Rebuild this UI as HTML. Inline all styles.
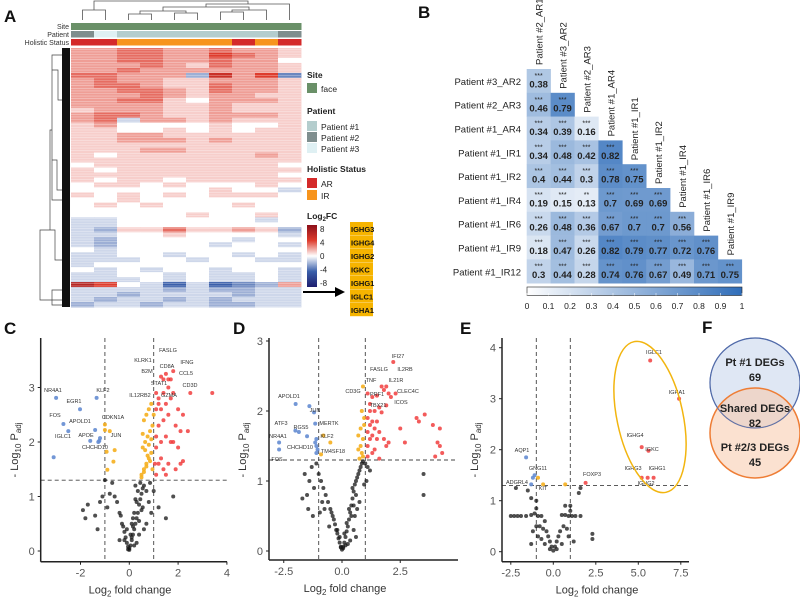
<!DOCTYPE html>
<html><head><meta charset="utf-8"><style>
html,body{margin:0;padding:0;background:#fff}
svg{display:block;font-family:"Liberation Sans",Arial,sans-serif}
</style></head><body>
<svg id="fig" width="800" height="603" viewBox="0 0 800 603"></svg>
<script>
// ---------- DATA ----------
const heatRows = [
[2,2,3,3,2,2,3,2,2,1],[2,2,3,3,2,2,4,3,2,1],[2,2,3,3,2,2,3,2,2,0],[2,2,2,3,2,1,3,2,2,1],[2,2,3,2,2,2,2,2,2,1],
[3,3,2,2,2,-2,5,2,4,-3],[2,3,2,2,1,1,2,2,2,1],[2,3,3,2,1,1,3,2,2,1],[2,2,3,3,2,1,3,2,2,1],[2,2,2,3,2,1,2,2,1,1],
[2,2,3,3,1,0,2,2,2,1],[2,2,2,2,1,1,2,1,1,1],[1,2,2,2,1,1,2,1,1,1],[2,3,3,2,1,1,2,2,2,1],[2,3,-1,2,2,1,2,1,1,1],
[1,2,0,0,0,0,1,0,0,1],[1,1,0,0,1,0,1,0,1,1],[1,1,2,2,1,1,1,1,1,1],[1,1,2,2,2,1,2,1,1,1],[1,1,1,1,1,1,1,1,1,1],
[1,1,1,2,2,1,1,1,1,1],[1,0,1,1,1,1,1,1,2,1],[1,1,1,1,1,1,1,1,1,1],[0,1,1,1,1,1,1,1,1,0],[1,0,1,1,1,1,1,1,1,1],
[1,1,1,1,1,1,1,1,1,0],[1,0,1,1,0,1,1,1,1,1],[0,1,1,0,1,0,0,0,1,0],[0,0,0,0,0,0,1,0,0,-1],[1,0,1,0,1,0,1,1,1,0],
[0,0,1,0,0,0,0,0,0,0],[0,1,0,1,0,0,0,1,0,0],[0,0,0,0,0,0,0,0,0,0],[0,0,0,0,0,1,0,0,1,0],[-1,-1,0,0,0,0,0,0,-1,0],
[-1,-1,0,0,0,0,0,0,0,0],[-1,-2,1,1,3,1,1,2,1,-2],[-1,-1,0,0,1,0,0,0,0,-1],[-1,-2,0,0,0,0,0,-1,0,0],[-1,-2,0,0,0,0,-1,0,0,-1],
[0,-1,0,0,0,0,0,0,0,0],[-1,-1,0,0,-1,0,0,-1,0,-1],[-1,-1,-1,0,0,-1,0,0,-1,-1],[-1,0,0,0,0,0,0,0,0,0],[0,-1,0,-1,0,0,-1,0,0,-1],
[-1,-1,0,0,-1,0,-1,-1,0,-1],[-1,-1,-1,0,-1,0,-1,-1,0,-1],[6,4,0,-1,-4,-1,-4,-3,-2,2],[-1,-1,-1,-1,-2,-1,-2,-2,-1,-1],[-1,-1,-2,-1,-1,-1,-1,-2,-1,-1],
[-1,-2,-1,-1,-2,-1,-2,-1,-1,-1],[-2,-1,-1,-2,-1,-1,-2,-2,-1,-1]];
const patientCols = [2,3,1,1,1,1,1,1,1,2];
const statusCols = ['AR','AR','IR','IR','IR','IR','IR','AR','IR','AR'];
const geneLabels = ['IGHG3','IGHG4','IGHG2','IGKC','IGHG1','IGLC1','IGHA1'];

const corrNames = ['Patient #2_AR1','Patient #3_AR2','Patient #2_AR3','Patient #1_AR4','Patient #1_IR1','Patient #1_IR2','Patient #1_IR4','Patient #1_IR6','Patient #1_IR9','Patient #1_IR12'];
const corrVals = [
[0.38],[0.46,0.79],[0.34,0.39,0.16],[0.34,0.48,0.42,0.82],[0.4,0.44,0.3,0.78,0.75],
[0.19,0.15,0.13,0.7,0.69,0.69],[0.26,0.48,0.36,0.67,0.7,0.7,0.56],
[0.18,0.47,0.26,0.82,0.79,0.77,0.72,0.76],[0.3,0.44,0.28,0.74,0.76,0.67,0.49,0.71,0.75]];
const corrStars = [
['***'],['***','***'],['***','***','***'],['***','***','***','***'],['***','***','***','***','***'],
['***','***','**','***','***','***'],['***','***','***','***','***','***','***'],
['***','***','***','***','***','***','***','***'],['***','***','***','***','***','***','***','***','***']];
const corrTicks = [0,0.1,0.2,0.3,0.4,0.5,0.6,0.7,0.8,0.9,1];

const cX = [-3.0,-2.02,-1.34,-2.7,-1.4,-1.0,-1.0,-2.5,-1.6,-1.23,-1.2,-1.27,-3.1,
 -0.8,-0.6,-0.93,-0.65,-0.9,0.5,0.6,0.7,0.8,0.9,0.55,0.65,0.75,0.85,0.95,0.6,0.7,0.8,0.9,0.5,0.6,0.7,0.8,0.9,0.95,0.85,0.75,0.65,0.55,
 1.1,1.2,1.1,1.3,1.5,1.2,1.4,1.6,1.3,1.5,1.7,1.2,1.4,1.1,1.6,1.8,2.0,2.2,2.5,3.4,1.9,2.1,1.8,1.7,2.0,1.6,2.1,2.2,1.9,1.5,1.4,1.3,1.1,1.0,1.3,1.8,1.6,1.7,1.4,1.5,2.4,1.2,1.05,1.1,
 0,0.05,-0.05,0.1,-0.1,0.15,-0.15,0.2,-0.2,0.25,-0.25,0.3,-0.3,0.35,0.4,-0.35,0.45,0.5,-0.4,0.55,0.3,0.2,0.1,-0.1,0.35,0.45,0.6,0.7,0.8,0.9,0.25,-0.5,-0.6,-0.7,-0.8,-0.9,-1.0,-1.2,-1.4,-1.3,-1.7,-1.8,-1.9,-1.1,-0.2,0.05,0.15,1.2,1.5,1.8,1.0,0.6,0.4,-0.4,0.7,0.85,0.55,0.3,0.4,0.5,0.2,0.1,0.0,-0.05,0.15,0.25];
const cY = [2.81,2.6,2.81,2.33,2.22,2.22,2.32,2.2,2.02,2.02,2.07,2.0,1.72,
 2.2,1.85,1.82,1.64,1.49,1.4,1.5,1.6,1.7,1.8,1.9,2.0,2.1,2.2,2.3,2.4,2.5,2.6,2.7,1.35,1.45,1.55,1.95,2.05,1.5,1.65,1.75,1.85,2.15,
 1.4,1.6,1.9,2.0,2.1,2.3,2.4,2.5,2.6,2.7,2.8,2.8,2.9,2.9,3.0,2.9,2.6,2.5,2.9,2.9,2.3,2.2,2.0,2.0,1.9,1.6,1.6,1.65,1.5,1.4,1.5,1.7,2.1,2.5,3.2,3.3,3.15,3.15,3.15,3.25,2.2,2.7,1.6,2.6,
 0.02,0.1,0.08,0.2,0.15,0.3,0.25,0.4,0.35,0.5,0.45,0.6,0.5,0.7,0.85,0.65,0.95,1.05,0.7,1.15,0.9,0.7,0.5,0.4,1.1,1.25,1.2,1.1,0.9,0.7,1.2,0.9,1.0,1.25,1.05,0.8,1.3,0.9,0.65,0.4,0.85,0.6,0.75,1.0,0.2,0.3,0.6,0.8,0.6,1.0,1.1,0.4,0.3,0.2,0.5,1.25,0.8,0.15,0.55,0.75,0.1,0.25,0.05,0.03,0.45,0.95];

const dX = [-1.99,-1.4,-1.2,-1.15,-2.0,-1.85,-1.5,-2.7,-2.7,-1.15,-1.1,-1.05,-1.1,-1.1,
 -0.8,-0.5,-0.9,0.9,0.85,0.95,0.8,0.7,0.9,0.8,0.7,0.9,0.75,0.95,0.85,
 2.2,1.7,1.9,1.8,2.0,2.3,1.5,1.3,2.1,1.1,1.2,1.6,1.9,1.4,1.7,1.1,1.3,1.5,1.2,1.4,1.6,1.1,1.3,1.2,1.5,1.8,1.1,1.4,1.9,1.3,1.1,2.0,2.7,3.2,3.3,3.55,3.9,4.2,4.1,4.2,4.3,4.0,1.6,1.2,2.5,
 3.5,3.5,0,0.05,-0.05,0.1,-0.1,0.15,-0.15,0.2,-0.2,0.25,-0.25,0.3,-0.3,0.35,-0.35,0.4,-0.4,0.45,-0.45,0.5,-0.5,0.55,0.6,-0.6,0.65,0.7,-0.7,0.75,0.8,-0.8,0.85,0.9,-0.9,1.0,-1.0,1.1,-1.1,1.2,-1.2,-1.3,-1.4,-1.5,-1.6,-1.7,0.3,0.4,0.5,0.6,0.2,0.1,-0.1,-0.2,0.45,0.55,0.65,0.35,0.25,0.15,-0.05,0.05,0.75,0.95,1.05,-0.75,-0.85,-0.95,-1.25,-1.45,-0.55,0.5,0.6];
const dY = [2.1,2.07,1.98,1.82,1.72,1.7,1.64,1.55,1.45,1.55,1.5,1.45,1.4,1.6,
 1.65,1.55,1.38,2.35,2.0,1.9,1.75,1.65,1.6,1.5,1.45,1.35,1.32,1.8,1.4,
 2.7,2.35,2.35,2.3,2.25,2.25,2.22,2.2,2.2,2.25,2.1,2.05,2.08,2.0,1.98,1.9,1.85,1.85,1.8,1.75,1.7,1.7,1.65,1.6,1.6,1.6,1.5,1.45,1.5,1.4,1.35,1.55,1.55,1.9,1.85,1.95,1.8,1.75,1.55,1.5,1.4,1.35,1.32,2.0,1.75,
 1.1,0.8,0.02,0.06,0.06,0.12,0.12,0.2,0.18,0.28,0.25,0.35,0.3,0.45,0.38,0.55,0.45,0.65,0.5,0.75,0.55,0.85,0.6,0.95,1.0,0.7,1.05,1.1,0.8,1.15,1.2,0.9,1.25,1.28,1.0,1.25,1.1,1.2,1.25,1.15,0.9,1.2,1.0,0.8,1.1,0.75,0.6,0.5,0.65,0.8,0.4,0.25,0.2,0.3,0.9,0.5,0.6,0.15,0.1,0.08,0.05,0.04,0.7,0.95,1.0,0.6,0.7,0.55,0.5,0.6,0.35,0.3,0.2];

const eX = [-1.6,-1.2,-1.1,-1.3,-0.9,-0.6,0.7,1.9,5.7,7.4,5.2,5.6,5.2,5.55,5.9,
 -2.5,-2.3,-2.1,-1.9,-1.6,-1.3,-1.1,-0.9,-0.7,-0.5,0.5,0.7,0.9,1.1,1.3,1.6,2.3,2.3,-1.0,-1.0,1.0,1.0,0,0.1,-0.1,0.2,-0.2,0.3,-0.3,-0.4,0.4,-0.6,0.6,-0.8,0.8,-1.2,-1.0,-0.9,0.9,1.2,-1.3,-1.5,1.5,1.6,-2.2,-1.3,-0.7,0.5,-0.5,0.2,-0.2,0.7];
const eY = [1.85,1.45,1.5,1.32,1.45,1.32,1.32,1.35,3.75,3.0,2.05,1.98,1.45,1.45,1.45,
 0.7,0.7,0.7,0.7,0.7,0.72,0.75,0.7,0.7,0.6,0.72,0.72,0.7,0.7,0.7,0.7,0.35,0.25,1.0,0.85,0.9,0.8,0.02,0.1,0.1,0.2,0.2,0.3,0.3,0.4,0.4,0.45,0.5,0.5,0.45,0.4,0.5,0.3,0.3,0.2,0.15,1.2,1.15,1.25,1.25,1.05,0.25,0.15,0.15,0.05,0.05,0.9];

// ---------- HELPERS ----------
const NS='http://www.w3.org/2000/svg';
const svg=document.getElementById('fig');
function el(tag,attrs,parent,text){const e=document.createElementNS(NS,tag);for(const k in attrs)e.setAttribute(k,attrs[k]);if(text!==undefined)e.textContent=text;(parent||svg).appendChild(e);return e;}
function lerp(a,b,t){return Math.round(a+(b-a)*t);}
function mix(c1,c2,t){return 'rgb('+lerp(c1[0],c2[0],t)+','+lerp(c1[1],c2[1],t)+','+lerp(c1[2],c2[2],t)+')';}
function heatColor(v){
  if(v>=0){return v<=4?mix([255,255,255],[222,60,45],v/4):mix([222,60,45],[140,15,25],(v-4)/4);}
  v=-v;return v<=4?mix([255,255,255],[58,95,170],v/4):mix([58,95,170],[30,30,110],(v-4)/4);
}
function corrColor(v){return mix([255,255,255],[47,109,185],v);}

// ---------- PANEL LETTERS ----------
[['A',4,22],['B',418,18],['C',4,334],['D',233,334],['E',460,334],['F',702,333]].forEach(p=>{
  const t=el('text',{x:p[1],y:p[2],'font-size':17,'font-weight':'bold',fill:'#111'},svg,p[0]);
  
  
});

// ---------- PANEL A ----------
const gA=el('g',{});


const hx0=71,hw=23,hy0=48,hy1=307;
const colCx=i=>hx0+hw*i+hw/2;
const dend=el('g',{stroke:'#555','stroke-width':0.8,fill:'none'},gA);


function link(x1,y1,x2,y2,top){el('path',{d:'M'+x1+','+y1+' V'+top+' H'+x2+' V'+y2},dend);}
link(colCx(0),20,colCx(1),20,10);
link(colCx(2),20,colCx(3),20,14);
link(colCx(4),20,colCx(5),20,13);
link(140,14,186,13,11);
link(colCx(6),20,colCx(7),20,12);
link(232,12,colCx(8),20,10);
link(163,11,249,10,7);
link(206,7,colCx(9),20,4);
link(94,10,248,4,1);
const patColors={1:'#b4cdcd',2:'#7f8e8e',3:'#dff0f3'};
const statColors={AR:'#d42a2a',IR:'#f7941d'};
for(let i=0;i<10;i++){
  let r=el('rect',{x:hx0+hw*i,y:23,width:hw+0.5,height:7,fill:'#6a9068'},gA);
  
  
  r=el('rect',{x:hx0+hw*i,y:31,width:hw+0.5,height:6.5,fill:patColors[patientCols[i]]},gA);
  
  
  r=el('rect',{x:hx0+hw*i,y:39,width:hw+0.5,height:6.5,fill:statColors[statusCols[i]]},gA);
  
  
}
[['Site',29],['Patient',37],['Holistic Status',45]].forEach(a=>{
  const t=el('text',{x:69,y:a[1],'font-size':7,'text-anchor':'end',fill:'#333'},gA,a[0]);
  
  
});
const rh=(hy1-hy0)/heatRows.length;
heatRows.forEach((row,ri)=>{row.forEach((v,ci)=>{
  const r=el('rect',{x:hx0+hw*ci,y:hy0+rh*ri,width:hw+0.4,height:rh+0.4,fill:heatColor(v)},gA);
  
  
});});
// fine row striping texture
const stripes=el('g',{stroke:'#fff','stroke-width':0.6,opacity:0.45},gA);


for(let y=hy0+1.3;y<hy1;y+=2.6){el('line',{x1:hx0,x2:hx0+hw*10,y1:y,y2:y},stripes);}
const ld=el('g',{stroke:'#444','stroke-width':0.7,fill:'none'},gA);


el('path',{d:'M62,55 H52 V200 H62 M52,130 H50 V230 H40 V300 H62 M50,230 H55 V260 H62 M40,300 H52 V290 H62 M52,300 V305 H62 M52,70 H58 V100 H62 M52,160 H57 V190 H62'},ld);
const fringe=el('rect',{x:62,y:48,width:8,height:259,fill:'#111'},gA);


function lt(x,y,txt,size,bold,name){const t=el('text',{x:x,y:y,'font-size':size,'font-weight':bold?'bold':'normal',fill:'#222'},gA,txt);return t;}
function lbox(y,c,name){const r=el('rect',{x:307,y:y,width:10,height:10,fill:c},gA);}
lt(307,78,'Site',8.5,true,'legend-title-site');
lbox(83,'#6a9068','legend-swatch-face');lt(321,92,'face',8.5,false,'legend-entry-face');
lt(307,114,'Patient',8.5,true,'legend-title-patient');
lbox(121,patColors[1],'legend-swatch-patient1');lt(321,130,'Patient #1',8.5,false,'legend-entry-patient1');
lbox(132,patColors[2],'legend-swatch-patient2');lt(321,141,'Patient #2',8.5,false,'legend-entry-patient2');
lbox(143,patColors[3],'legend-swatch-patient3');lt(321,152,'Patient #3',8.5,false,'legend-entry-patient3');
lt(307,172,'Holistic Status',8.5,true,'legend-title-status');
lbox(178,statColors.AR,'legend-swatch-ar');lt(321,187,'AR',8.5,false,'legend-entry-ar');
lbox(190,statColors.IR,'legend-swatch-ir');lt(321,199,'IR',8.5,false,'legend-entry-ir');
const lf=lt(307,219,'Log',8.5,true,'legend-title-log2fc');
el('tspan',{'font-size':6,dy:2},lf,'2');el('tspan',{dy:-2},lf,'FC');
const defs=el('defs',{});
const lg=el('linearGradient',{id:'fcgrad',x1:0,y1:0,x2:0,y2:1},defs);
[8,4,0,-4,-8].forEach((v,i)=>el('stop',{offset:i/4,'stop-color':heatColor(v)},lg));
const cb=el('rect',{x:307,y:225,width:10,height:62,fill:'url(#fcgrad)'},gA);


['8','4','0','-4','-8'].forEach((s,i)=>lt(320,232+i*13.5,s,8,false,'colorbar-tick'));
geneLabels.forEach((g,i)=>{
  const r=el('rect',{x:350,y:222+i*13.5,width:23,height:13.2,fill:'#f6b400'},gA);
  
  
  const t=el('text',{x:351,y:232+i*13.5,'font-size':7.5,'font-weight':'bold',fill:'#111'},gA,g);
  
  
});
const arr=el('path',{d:'M303,292 H336',stroke:'#000','stroke-width':2},gA);


el('path',{d:'M335,287 L345,292 L335,297 Z',fill:'#000'},gA);

// ---------- PANEL B ----------
const gB=el('g',{});


const bx0=526.7,by0=69,bc=23.9,br=23.8;
corrVals.forEach((row,ri)=>{
  const lab=el('text',{x:521,y:by0+br*ri+br/2+4,'font-size':9.5,'text-anchor':'end',fill:'#222'},gB,corrNames[ri+1]);
  
  
  row.forEach((v,ci)=>{
    const x=bx0+bc*ci,y=by0+br*ri;
    const r=el('rect',{x:x,y:y,width:bc+0.3,height:br+0.3,fill:corrColor(v)},gB);
    
    
    const s=el('text',{x:x+bc/2,y:y+9,'font-size':7,'text-anchor':'middle',fill:'#222'},gB,corrStars[ri][ci]);
    
    
    const t=el('text',{x:x+bc/2,y:y+18.5,'font-size':9.5,'font-weight':'bold','text-anchor':'middle',fill:'#222'},gB,String(v));
    
    
  });
});
for(let j=0;j<9;j++){
  const x=bx0+bc*j+bc/2+4,y=by0+br*j-4;
  const t=el('text',{x:x,y:y,'font-size':9.5,fill:'#222',transform:'rotate(-90 '+x+' '+y+')'},gB,corrNames[j]);
  
  
}
const lg2=el('linearGradient',{id:'cgrad',x1:0,y1:0,x2:1,y2:0},defs);
el('stop',{offset:0,'stop-color':corrColor(0)},lg2);el('stop',{offset:1,'stop-color':corrColor(1)},lg2);
const cb2=el('rect',{x:527,y:287,width:215,height:8.5,fill:'url(#cgrad)',stroke:'#222','stroke-width':0.6},gB);


corrTicks.forEach(v=>{
  const x=527+215*v;
  el('line',{x1:x,x2:x,y1:293,y2:295.5,stroke:'#fff','stroke-width':0.5},gB);
  const t=el('text',{x:x,y:309,'font-size':8.5,'text-anchor':'middle',fill:'#222'},gB,String(v));
  
  
});

// ---------- VOLCANO ----------
function volcano(cfg){
  const g=el('g',{});
  
  
  const sx=v=>cfg.x0+cfg.kx*v, sy=v=>cfg.y0-cfg.ky*v;
  [[sx(-1),cfg.top,sx(-1),cfg.axY],[sx(1),cfg.top,sx(1),cfg.axY],[cfg.axX,sy(1.3),cfg.xEnd,sy(1.3)]].forEach(l=>{
    const d=el('line',{x1:l[0],y1:l[1],x2:l[2],y2:l[3],stroke:'#444','stroke-width':0.9,'stroke-dasharray':'4,3'},g);
    
    
  });
  cfg.xs.forEach((xv,i)=>{
    const yv=cfg.ys[i];let c='rgba(20,20,20,0.75)',nm='point-ns';
    if(yv>1.3){ if(xv>1){c='rgba(240,50,50,0.8)';nm='point-up';} else if(xv<-1){c='rgba(100,140,210,0.9)';nm='point-down';} else {c='rgba(245,175,30,0.9)';nm='point-sig';} }
    const p=el('circle',{cx:sx(xv),cy:sy(yv),r:2,fill:c},g);
    
    
  });
  el('line',{x1:cfg.axX,y1:cfg.top,x2:cfg.axX,y2:cfg.axY,stroke:'#222','stroke-width':1.5},g);
  el('line',{x1:cfg.axX,y1:cfg.axY,x2:cfg.xEnd,y2:cfg.axY,stroke:'#222','stroke-width':1.5},g);
  cfg.yt.forEach(v=>{
    el('line',{x1:cfg.axX-3,x2:cfg.axX,y1:sy(v),y2:sy(v),stroke:'#222'},g);
    const t=el('text',{x:cfg.axX-6,y:sy(v)+4,'font-size':11,'text-anchor':'end',fill:'#555'},g,String(v));
    
    
  });
  cfg.xt.forEach((v,i)=>{
    el('line',{x1:sx(v),x2:sx(v),y1:cfg.axY,y2:cfg.axY+3,stroke:'#222'},g);
    const t=el('text',{x:sx(v),y:cfg.axY+15,'font-size':11,'text-anchor':'middle',fill:'#555'},g,cfg.xtl[i]);
    
    
  });
  const xt=el('text',{x:cfg.xtx,y:cfg.axY+32,'font-size':11,'text-anchor':'middle',fill:'#333'},g,'Log');
  
  
  el('tspan',{'font-size':8,dy:3},xt,'2');el('tspan',{dy:-3},xt,' fold change');
  const yx=cfg.ytx, yy=cfg.yty;
  const yt=el('text',{x:yx,y:yy,'font-size':11,'text-anchor':'middle',fill:'#333',transform:'rotate(-90 '+yx+' '+yy+')'},g,'- Log');
  
  
  el('tspan',{'font-size':8,dy:3},yt,'10');el('tspan',{dy:-3},yt,' P');el('tspan',{'font-size':8,dy:3},yt,'adj');
  cfg.labels.forEach(l=>{
    const t=el('text',{x:l[1],y:l[2],'font-size':5.5,'text-anchor':'middle',fill:'#333'},g,l[0]);
    
    
  });
  return g;
}
volcano({name:'volcano-c',xs:cX,ys:cY,x0:129.3,kx:24.4,y0:551,ky:54.5,axX:40.7,axY:561.7,top:338,xEnd:227,
  yt:[0,1,2,3],xt:[-2,0,2,4],xtl:['-2','0','2','4'],xtx:130,ytx:18,yty:450,
  labels:[['NR4A1',53,392],['EGR1',74,403],['KLF2',103,392],['FOS',55,417],['APOLD1',80,423],['CDKN1A',113,419],['IGLC1',63,438],['APOE',86,437],['JUN',116,437],['CHCHD10',95,449],
   ['KLRK1',143,362],['FASLG',168,352],['IFNG',187,364],['CD8A',167,368],['B2M',147,373],['CCL5',186,375],['STAT1',159,385],['CD3D',190,387],['IL12RB2',140,397],['GZMA',169,397]]});
volcano({name:'volcano-d',xs:dX,ys:dY,x0:342,kx:23.3,y0:551,ky:70,axX:269,axY:560,top:338,xEnd:458,
  yt:[0,1,2,3],xt:[-2.5,0,2.5],xtl:['-2.5','0.0','2.5'],xtx:345,ytx:246,yty:450,
  labels:[['IFI27',398,358],['FASLG',379,371],['IL2RB',405,371],['TNF',371,382],['IL21R',396,382],['CD3G',353,393],['CLEC4C',408,393],['PRF1',377,396],['ICOS',401,404],['TBX21',378,407],
   ['APOLD1',289,398],['JUN',315,412],['ATF3',281,425],['RGS5',301,429],['MERTK',329,425],['NR4A1',278,438],['KLF2',327,438],['CHCHD10',300,449],['TM4SF18',333,453],['FOS',277,461]]});
volcano({name:'volcano-e',xs:eX,ys:eY,x0:553.3,kx:17,y0:551.7,ky:51,axX:502,axY:561.7,top:338,xEnd:689,
  yt:[0,1,2,3,4],xt:[-2.5,0,2.5,5,7.5],xtl:['-2.5','0.0','2.5','5.0','7.5'],xtx:597,ytx:478,yty:450,
  labels:[['IGLC1',654,354],['IGHA1',677,394],['IGHG4',635,437],['IGKC',652,451],['IGHG3',633,470],['IGHG1',657,470],['IGHG2',646,485],['FOXP3',592,476],['AQP1',522,452],['GNG11',538,470],['ADGRL4',517,484],['KIT',543,490]]});
const ell=el('ellipse',{cx:650,cy:417,rx:33,ry:77,fill:'none',stroke:'#f2b50f','stroke-width':1.5,transform:'rotate(-12 650 417)'});



// ---------- PANEL F ----------
const gF=el('g',{});


const c1=el('circle',{cx:755,cy:383,r:45,fill:'#dfe7f4',stroke:'#2f55a4','stroke-width':1.2},gF);


const c2=el('circle',{cx:755,cy:433,r:45,fill:'rgba(248,200,170,0.55)',stroke:'#ee7d35','stroke-width':1.5},gF);


el('circle',{cx:755,cy:383,r:45,fill:'none',stroke:'#5a6fa8','stroke-width':0.8},gF);
[['Pt #1 DEGs',366],['69',381],['Shared DEGs',412],['82',427],['Pt #2/3 DEGs',451],['45',466]].forEach(a=>{
  const t=el('text',{x:755,y:a[1],'font-size':11,'font-weight':'bold','text-anchor':'middle',fill:'#222'},gF,a[0]);
  
  
});
</script>
</body></html>
